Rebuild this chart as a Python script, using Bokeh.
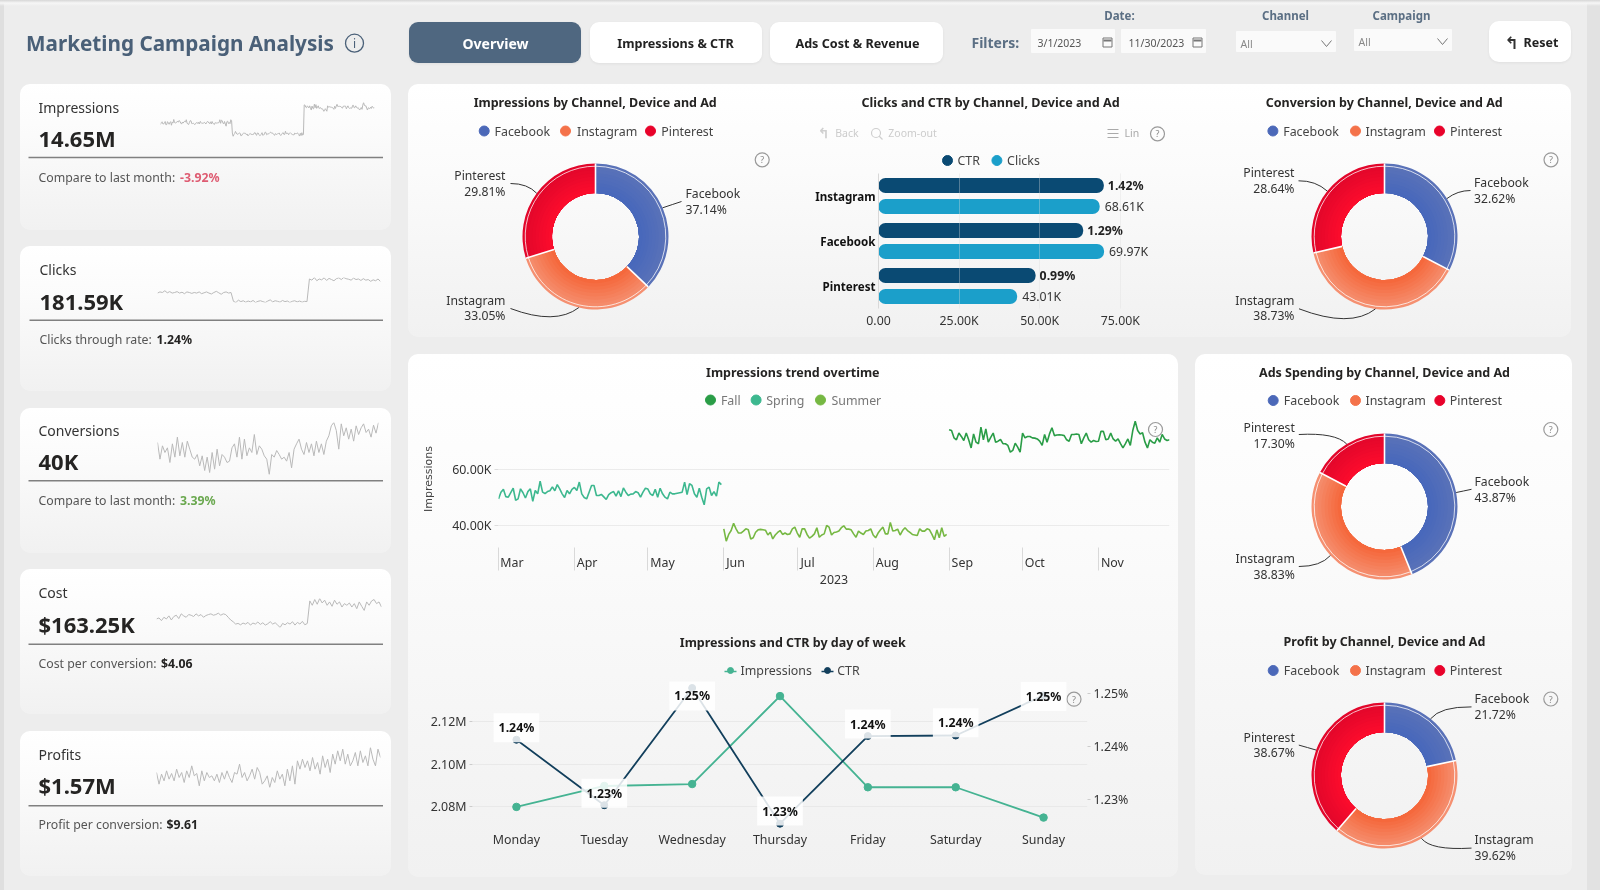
import math
from bokeh.plotting import figure
from bokeh.core.properties import value
from bokeh.models import (Column, Div, Label, Range1d, LinearAxis, FixedTicker, ColumnDataSource,
                          FactorRange, CategoricalAxis)
from bokeh.transform import dodge
from bokeh.embed import file_html
from bokeh.resources import INLINE

# ---------- DATA ----------
channels = ["Facebook", "Instagram", "Pinterest"]
impressions_share = [37.14, 33.05, 29.81]
conversion_share = [32.62, 38.73, 28.64]
spending_share = [43.87, 38.83, 17.30]
profit_share = [21.72, 39.62, 38.67]

bar_channels = ["Pinterest", "Facebook", "Instagram"]
bar_clicks = [43010, 69970, 68610]
bar_ctr = [0.99, 1.29, 1.42]
bar_clicks_labels = ["43.01K", "69.97K", "68.61K"]
bar_ctr_labels = ["0.99%", "1.29%", "1.42%"]

weekdays = ["Monday", "Tuesday", "Wednesday", "Thursday", "Friday", "Saturday", "Sunday"]
dow_impressions = [2.0800e6, 2.0898e6, 2.0907e6, 2.1319e6, 2.0892e6, 2.0892e6, 2.0750e6]
dow_ctr = [1.2413, 1.2289, 1.2511, 1.2254, 1.2420, 1.2421, 1.2497]
dow_ctr_labels = ["1.24%", "1.23%", "1.25%", "1.23%", "1.24%", "1.24%", "1.25%"]

spring = [49.4,51.8,52.8,50.2,50.0,51.6,53.2,48.9,49.4,53.0,51.6,49.7,52.0,53.0,48.5,52.4,51.2,55.7,51.8,51.3,52.0,52.3,53.7,52.3,54.5,53.0,51.2,49.9,52.4,51.2,52.8,53.5,52.4,55.4,51.2,49.9,49.4,51.8,54.2,54.2,50.6,50.6,51.0,50.1,49.2,50.9,51.6,52.0,50.4,52.3,50.2,53.3,51.8,50.6,51.1,51.2,52.0,51.6,50.0,51.8,53.2,52.9,51.2,50.6,52.8,50.0,53.2,51.2,50.0,49.4,51.8,51.2,51.2,51.4,51.6,51.8,55.4,50.9,54.8,54.2,51.2,50.0,53.2,50.0,47.3,53.0,53.6,50.6,52.0,50.4,55.4,54.5]
summer = [38.7,34.3,36.7,38.1,40.7,38.7,37.2,37.2,37.9,38.7,38.35,35.1,35.5,37.5,38.35,38.5,38.35,38.2,36.5,37.5,35.1,36.5,37.4,38.1,36.7,37.2,36.7,36.9,38.7,39.3,37.2,35.7,38.7,38.7,36.7,35.4,36.0,36.9,39.1,35.7,36.5,36.9,39.9,39.3,36.5,37.4,37.6,37.9,39.1,39.8,38.6,38.6,38.35,36.9,35.7,37.9,37.2,36.7,37.9,38.1,38.7,36.5,35.5,37.2,38.35,39.3,36.9,36.9,41.0,37.9,38.1,38.6,36.5,38.1,39.1,38.1,37.4,36.7,36.5,36.3,38.7,37.9,37.9,38.7,38.35,36.7,34.8,38.35,35.5,39.1,36.0,36.7]
fall = [74.1,73.8,71.2,70.5,72.9,71.7,70.25,72.9,70.5,67.6,72.6,69.65,69.1,75.0,70.5,74.4,69.65,71.4,72.9,69.65,70.0,70.6,69.1,69.1,68.5,66.1,66.7,69.3,67.9,66.1,72.9,71.2,71.7,71.7,71.2,71.1,70.8,70.0,68.5,72.4,69.65,72.6,74.8,72.0,72.2,72.3,72.2,72.0,70.5,70.0,72.4,72.4,72.6,72.4,69.1,71.2,72.9,70.5,69.65,70.25,69.9,70.0,73.5,73.5,70.5,70.8,72.9,70.8,70.0,70.8,69.1,67.6,69.1,70.8,68.5,73.8,77.1,73.8,72.6,73.0,69.65,67.6,70.5,69.65,69.3,71.2,69.65,72.4,70.8,70.25,70.5]
month_names = ["Mar", "Apr", "May", "Jun", "Jul", "Aug", "Sep", "Oct", "Nov"]
month_first_day = [0, 31, 61, 92, 122, 153, 184, 214, 245]

clicks_spark = [640,660,650,680,645,665,640,650,665,640,655,630,660,650,635,650,640,660,630,645,660,640,625,650,670,645,620,650,660,640,650,
                500,480,520,495,510,485,505,490,515,480,500,510,495,480,505,525,490,510,500,485,515,495,505,480,500,510,490,505,485,500,495,
                880,860,905,850,880,865,900,855,890,870,850,885,900,870,905,885,875,860,895,870,880,855,885,860,870,840,865,850,880,835]
conversions_spark = [150,125,145,135,142,120,148,128,158,130,150,128,152,140,128,125,132,115,130,108,128,105,135,110,140,115,132,128,120,122,142,148,128,158,125,155,130,142,135,162,132,145,140,130,125,102,132,128,138,132,125,128,122,135,112,140,148,155,140,132,150,135,148,130,152,135,148,132,152,160,175,180,168,140,178,160,172,155,170,152,175,162,172,178,165,170,158,176,164,180]
cost_spark = [550,564,527,573,550,592,536,583,601,555,620,592,573,610,601,583,620,592,610,573,597,610,620,601,610,629,601,620,610,573,536,
              512,480,489,470,494,480,503,466,494,480,508,475,498,466,484,512,480,498,466,433,489,470,498,480,512,466,503,480,517,470,489,
              797,737,816,751,830,769,807,737,783,723,807,751,783,713,760,737,769,713,760,690,783,723,667,783,737,797,816,760,783,713]
profit_spark = [5550,4500,5400,4800,5700,4950,5460,4800,5850,5100,5550,4650,5700,5100,6150,5250,5460,4350,5700,4800,5550,5100,5250,4800,5400,4650,5550,4950,5700,5100,4650,5550,5400,6300,5100,5550,4800,5250,5850,4950,6000,5550,4500,4800,5250,4200,5100,4650,5700,4950,5400,4350,5850,4800,6150,4500,6600,5850,6750,6000,6600,5700,6900,5850,6450,5400,7050,6000,6750,5550,7200,6300,7500,6600,7650,6300,7200,6150,6600,7350,6150,7500,6450,7050,6150,7800,6750,6150,7650,6900]

# ---------- STYLE / LAYOUT ----------
FONT = "Noto Sans"
BG = "#ededed"
CARD = "linear-gradient(180deg,#ffffff 0%,#fbfbfb 35%,#f1f1f1 100%)"
SLATE = "#4a6078"
FILT = "#5b6f84"
INK = "#252423"
COL_FB, COL_IG, COL_PI = "#4b68b8", "#f4724a", "#e8022a"
RING = {"Facebook": ("#4868bb", "#5a72b8"), "Instagram": ("#f5683c", "#f59071"), "Pinterest": ("#fb0c2c", "#e2062b")}
kids = []

def abs_style(x, y):
    return {"position": "absolute", "left": f"{x}px", "top": f"{y}px"}

def box(x0, y0, x1, y1, bg="#fff", radius=10, shadow=None):
    s = {"background": bg, "border-radius": f"{radius}px", **abs_style(x0, y0)}
    if shadow:
        s["box-shadow"] = shadow
    d = Div(text="", width=round(x1 - x0), height=round(y1 - y0), margin=0, styles=s)
    kids.append(d)
    return d

def hexmix(a, b, t):
    ca = [int(a[i:i + 2], 16) for i in (1, 3, 5)]
    cb = [int(b[i:i + 2], 16) for i in (1, 3, 5)]
    return "#%02x%02x%02x" % tuple(round(u + (v - u) * t) for u, v in zip(ca, cb))

def frame_fig(fx0, fy0, fx1, fy1, pl, pr, pt, pb, x_range, y_range):
    fw, fh = round(fx1 - fx0), round(fy1 - fy0)
    W, H = fw + pl + pr, fh + pt + pb
    f = figure(width=W, height=H, frame_width=fw, frame_height=fh,
               min_border_left=pl, min_border_right=pr, min_border_top=pt, min_border_bottom=pb,
               x_range=x_range, y_range=y_range, output_backend="svg", toolbar_location=None,
               x_axis_location=None, y_axis_location=None, margin=0)
    f.background_fill_alpha = 0
    f.border_fill_alpha = 0
    f.outline_line_color = None
    f.grid.visible = False
    # own wrapper: the layout aligns the frames of figures that share a column
    kids.append(Column(children=[f], width=W, height=H, margin=0, styles=abs_style(fx0 - pl, fy0 - pt)))
    return f

# page background reaching the margins
kids.append(Div(text="", width=1600, height=890, margin=0, styles={
    "position": "fixed", "left": "0", "top": "0", "width": "100vw", "height": "100vh",
    "background": f"linear-gradient(180deg,#d6d6d6 0,#f6f6f6 3px,rgba(237,237,237,0) 6px),"
                  f"linear-gradient(90deg,#dfdfdf 4px,{BG} 4px,{BG} 1587px,#e2e2e2 1587px)"}))

# cards
for y0, y1 in [(84, 230), (246, 391), (408, 553), (569, 714), (731, 876)]:
    box(20, y0, 391, y1, CARD)
box(408, 84, 1571, 337, CARD)
box(408, 354, 1178, 877, CARD)
box(1195, 354, 1572, 875, CARD)

# header buttons and inputs
SH = "0 1px 3px rgba(0,0,0,.06)"
box(409, 22, 581, 63, "#4f6780", 9, SH)
box(590, 22, 762, 63, "#fff", 9, SH)
box(770, 22, 943, 63, "#fff", 9, SH)
box(1031, 29, 1115, 53, "#fafafa", 1)
box(1121, 29, 1206, 53, "#fafafa", 1)
box(1236, 31, 1336, 52, "#fafafa", 1)
box(1354, 29, 1452, 51, "#fafafa", 1)
box(1489, 21, 1571, 62, "#fff", 10, SH)

# overlay with all the texts of the page, in page pixels
ov = frame_fig(8, 8, 1592, 882, 0, 0, 0, 0, Range1d(8, 1592), Range1d(882, 8))
LIFT = 1  # Noto Sans sits a pixel low on a "middle" baseline

def T(x, y, s, size=13, color=INK, bold=False, align="left", font=FONT, angle=0):
    ov.add_layout(Label(x=x, y=y - LIFT, text=s, text_font=font, text_font_size=f"{size}px",
                        text_font_style="bold" if bold else "normal", text_color=color,
                        text_align=align, text_baseline="middle", angle=angle))

def qmark(x, y):
    ov.scatter([x], [y], size=14, marker="circle", fill_alpha=0, line_color="#9a9a9a", line_width=1.2)
    T(x, y + LIFT, "?", 9, "#888", align="center")

def chevron(x, y):
    ov.line([x - 5, x, x + 5], [y - 3, y + 3, y - 3], line_color="#777", line_width=1)

def calendar(x, y):
    ov.scatter([x], [y], size=9, marker="square", fill_alpha=0, line_color="#777", line_width=1)
    ov.segment([x - 4], [y - 2], [x + 4], [y - 2], line_color="#777", line_width=2)

T(25.5, 43, "Marketing Campaign Analysis", 20.7, SLATE, True)
ov.scatter([354], [42.7], size=18, marker="circle", fill_alpha=0, line_color=SLATE, line_width=1.3)
T(354, 43.7, "i", 12, SLATE, align="center")
T(495, 44, "Overview", 14, "#ffffff", True, "center")
T(675, 44, "Impressions & CTR", 12.6, "#222", True, "center")
T(857, 44, "Ads Cost & Revenue", 12.6, "#222", True, "center")
T(971, 42.7, "Filters:", 14, FILT, True)
T(1119, 15.7, "Date:", 11.5, FILT, True, "center")
T(1285, 15.7, "Channel", 11.5, FILT, True, "center")
T(1401, 15.7, "Campaign", 11.5, FILT, True, "center")
T(1037, 43, "3/1/2023", 10.5, "#555")
T(1128, 43, "11/30/2023", 10.5, "#555")
calendar(1107, 42)
calendar(1197, 42)
T(1240, 44, "All", 10.5, "#888")
T(1358, 42, "All", 10.5, "#888")
chevron(1326, 43)
chevron(1442, 41)
T(1511, 43, "↰", 17, "#333", True, "center", font="DejaVu Sans")
T(1523, 43, "Reset", 12.5, "#222", True)

# KPI texts
kpis = [
    (108, "Impressions", 139.5, "14.65M", 157, 178, "Compare to last month: ", "-3.92%", "#de5c72", 179.6, 38),
    (270, "Clicks", 302.5, "181.59K", 319.7, 340, "Clicks through rate: ", "1.24%", "#252423", 156, 39),
    (431, "Conversions", 462.7, "40K", 480.3, 500.7, "Compare to last month: ", "3.39%", "#6aa84f", 179.5, 38),
    (593.3, "Cost", 625, "$163.25K", 643.7, 664, "Cost per conversion: ", "$4.06", "#252423", 160.5, 38),
    (754.7, "Profits", 786, "$1.57M", 805.3, 825.3, "Profit per conversion: ", "$9.61", "#252423", 166, 38),
]
for yl, name, yv, val, yr, ys, sub, subv, subc, subx, lx in kpis:
    T(lx, yl, name, 14, "#333")
    T(lx, yv - 1, val, 22, INK, True)
    ov.segment([lx - 10], [yr], [382.5], [yr], line_color="#808080", line_width=1.4)
    T(lx, ys, sub, 12.3, "#555")
    T(subx, ys, subv, 12.3, subc, True)

# shared legend for donuts
def donut_legend(y, xs):
    for name, col, (dx, tx) in zip(channels, (COL_FB, COL_IG, COL_PI), xs):
        ov.scatter([dx], [y], size=10, marker="circle", color=col)
        T(tx, y + 1, name, 12.4, "#444")

T(594.7, 103, "Impressions by Channel, Device and Ad", 12.5, INK, True, "center")
donut_legend(130.5, [(483.7, 494), (565, 576.5), (650, 660.7)])
qmark(761.7, 159.3)
T(1383.7, 103, "Conversion by Channel, Device and Ad", 12.5, INK, True, "center")
donut_legend(130.5, [(1272.4, 1282.7), (1355, 1365), (1439, 1449.5)])
qmark(1550.5, 159.3)
T(1384, 373, "Ads Spending by Channel, Device and Ad", 12.5, INK, True, "center")
donut_legend(400, [(1272.7, 1283.3), (1355, 1365), (1439.3, 1449.3)])
qmark(1550.3, 429)
T(1384, 642.3, "Profit by Channel, Device and Ad", 12.5, INK, True, "center")
donut_legend(670, [(1272.7, 1283.3), (1355, 1365), (1439.3, 1449.3)])
qmark(1550.3, 698.5)

# bar chart header
T(990, 103, "Clicks and CTR by Channel, Device and Ad", 12.6, INK, True, "center")
T(823, 133, "↰", 14, "#cfcfcf", True, "center", font="DejaVu Sans")
T(834.7, 133.5, "Back", 10.5, "#cccccc")
ov.scatter([875.5], [132.5], size=9, marker="circle", fill_alpha=0, line_color="#cfcfcf", line_width=1.2)
ov.segment([878.5], [135.5], [882], [139], line_color="#cfcfcf", line_width=1.2)
T(887.8, 133.5, "Zoom-out", 10.5, "#cccccc")
for dy in (-4, 0, 4):
    ov.segment([1107], [133 + dy], [1118], [133 + dy], line_color="#aaaaaa", line_width=1)
T(1124, 133.5, "Lin", 10.5, "#aaaaaa")
qmark(1157, 133.3)
ov.scatter([947], [160], size=10, marker="circle", color="#0a4a73")
T(957, 161, "CTR", 12.4, "#444")
ov.scatter([996.4], [160], size=10, marker="circle", color="#1b9fca")
T(1006.6, 161, "Clicks", 12.4, "#444")

# trend / dow headers
T(792.3, 373.3, "Impressions trend overtime", 12.5, INK, True, "center")
for x, tx, n, c in [(710, 720.4, "Fall", "#2a9d47"), (755.6, 765.8, "Spring", "#3db88f"), (820, 831, "Summer", "#76b843")]:
    ov.scatter([x], [399.5], size=10, marker="circle", color=c)
    T(tx, 401, n, 12.4, "#777")
qmark(1155, 429)
T(792.3, 642.7, "Impressions and CTR by day of week", 12.5, INK, True, "center")
for x, tx, n, c in [(730, 740, "Impressions", "#45b392"), (827, 836.7, "CTR", "#123f5c")]:
    ov.segment([x - 6], [671], [x + 6], [671], line_color=c, line_width=1.5)
    ov.scatter([x], [670], size=6, marker="circle", color=c)
    T(tx, 671, n, 12.4, "#444")
qmark(1073.5, 698.7)

# ---------- sparklines ----------
def spark(values, x0, x1, y0, y1):
    f = frame_fig(x0, y0, x1, y1, 1, 1, 1, 1, Range1d(0, len(values) - 1), Range1d(min(values), max(values)))
    f.line(list(range(len(values))), values, line_color="#b9b9b9", line_width=1)

spark(spring + summer + fall, 160, 374.3, 102.4, 136.5)
spark(clicks_spark, 157.3, 380, 276.7, 301.7)
spark(conversions_spark, 157.3, 378.3, 421.7, 473.7)
spark(cost_spark, 156, 380.7, 598, 626.7)
spark(profit_spark, 156, 380, 746.7, 786.7)

# ---------- donuts ----------
R_OUT, R_IN = 73, 43.5
def donut(values, cx, cy, layout):
    HW, HH = 182, 97
    f = frame_fig(cx - HW, cy - HH, cx + HW, cy + HH, 0, 0, 0, 0, Range1d(-HW, HW), Range1d(-HH, HH))
    total = sum(values)
    cum = 0
    bands = 9
    for name, v, lay in zip(channels, values, layout):
        a0 = cum / total
        a1 = (cum + v) / total
        cum += v
        start, end = math.pi / 2 - 2 * math.pi * a1, math.pi / 2 - 2 * math.pi * a0
        c_in, c_out = RING[name]
        # radial shading: painted from the rim inwards, each layer over the previous
        for b in reversed(range(bands)):
            r1 = R_IN + (R_OUT - R_IN) * (b + 1) / bands
            f.annular_wedge(0, 0, R_IN, r1, start, end, fill_color=hexmix(c_in, c_out, b / (bands - 1)),
                            line_color=None)
        # white inner rim
        f.arc(0, 0, radius=70.3, start_angle=start, end_angle=end, line_color="#ffffff", line_width=1, line_alpha=0.75)
        # leader line + label
        mid = (a0 + a1) / 2 * 2 * math.pi
        sx, sy = R_OUT * math.sin(mid), R_OUT * math.cos(mid)
        ax, ay, qx, qy, tx, ty0, ty1 = lay
        f.quadratic(sx, sy, ax - cx, cy - ay, qx - cx, cy - qy, line_color="#333333", line_width=1)
        al = "left" if tx > cx else "right"
        for ty, s in ((ty0, name), (ty1, f"{v:.2f}%")):
            f.text([tx - cx], [cy - ty + LIFT * 0.5], [s], text_font=value(FONT), text_font_size="12.2px", text_color="#333",
                   text_align=al, text_baseline="middle")
    # white slice separators
    cum = 0
    for v in values:
        a = math.pi / 2 - 2 * math.pi * cum / total
        cum += v
        f.segment(R_IN * math.cos(a), R_IN * math.sin(a), R_OUT * math.cos(a), R_OUT * math.sin(a),
                  line_color="#ffffff", line_width=1.6)

# per slice: leader end x,y / control x,y / text x, line-1 y, line-2 y, all in page pixels
donut(impressions_share, 595, 236, [(681, 201, 672, 204, 685, 193.3, 209),
                                    (510, 308, 555, 325, 505, 300, 315.3),
                                    (510, 183, 527, 183, 505, 175.3, 191.3)])
donut(conversion_share, 1384, 236, [(1470, 190, 1457, 190, 1473.5, 182, 198),
                                    (1298.5, 308.3, 1350, 328, 1294, 300.3, 315.3),
                                    (1298, 180.3, 1315, 180, 1294, 172.7, 188.7)])
donut(spending_share, 1384, 506, [(1471, 488.8, 1463, 490.5, 1474, 481, 497),
                                  (1298.3, 566, 1320, 566, 1294.3, 558.7, 574.5),
                                  (1298.3, 434, 1335, 432, 1294.3, 427, 443)])
donut(profit_share, 1384, 775, [(1471, 706.4, 1440, 706, 1474, 698.5, 714.3),
                                (1471, 847.6, 1430, 850, 1474, 839.3, 855),
                                (1298.3, 744.6, 1307, 747, 1294.3, 737, 752.5)])

# ---------- bar chart ----------
PX_PER_25K = 80.6
PX_PER_PCT = 158.7
bx0, bx1, by0, by1 = 877.6, 1147.6, 172.75, 308
bx_max = (bx1 - bx0) / PX_PER_25K * 25000
bf = frame_fig(bx0, by0, bx1, by1, 90, 10, 4, 34, Range1d(0, bx_max), FactorRange(factors=bar_channels))
bf.extra_x_ranges["ctr"] = Range1d(0, (bx1 - bx0) / PX_PER_PCT)
bsrc = ColumnDataSource(dict(ch=bar_channels, clicks=bar_clicks, ctr=bar_ctr,
                             lc=bar_clicks_labels, lr=bar_ctr_labels))
bf.hbar(y=dodge("ch", 0.233, range=bf.y_range), left=0, right="ctr", height=0.333, x_range_name="ctr",
        source=bsrc, fill_color="#0a4a73", line_color=None, border_radius=7)
bf.hbar(y=dodge("ch", -0.233, range=bf.y_range), left=0, right="clicks", height=0.333,
        source=bsrc, fill_color="#1b9fca", line_color=None, border_radius=7)
bf.text(x="ctr", y=dodge("ch", 0.233, range=bf.y_range), text="lr", x_range_name="ctr", source=bsrc, x_offset=4,
        text_font=value(FONT), text_font_size="12.3px", text_font_style="bold", text_color="#222", text_baseline="middle")
bf.text(x="clicks", y=dodge("ch", -0.233, range=bf.y_range), text="lc", source=bsrc, x_offset=5,
        text_font=value(FONT), text_font_size="12.3px", text_color="#333", text_baseline="middle")
bax = LinearAxis(ticker=FixedTicker(ticks=[0, 25000, 50000, 75000]),
                 major_label_overrides={0: "0.00", 25000: "25.00K", 50000: "50.00K", 75000: "75.00K"})
bax.axis_line_color = None
bax.major_tick_line_color = None
bax.major_tick_out = 0
bax.major_tick_in = 0
bax.major_label_standoff = 3
bax.major_label_text_font = FONT
bax.major_label_text_font_size = "12.3px"
bax.major_label_text_color = "#333"
bf.add_layout(bax, "below")
cax = CategoricalAxis()
cax.axis_line_color = "#d8d8d8"
cax.major_tick_line_color = None
cax.major_tick_out = 0
cax.major_tick_in = 0
cax.major_label_standoff = 3
cax.major_label_text_font = FONT
cax.major_label_text_font_size = "11.6px"
cax.major_label_text_color = "#111"
cax.major_label_text_font_style = "bold"
bf.add_layout(cax, "left")
bf.xgrid.visible = True
bf.xgrid.ticker = FixedTicker(ticks=[25000, 50000, 75000])
bf.xgrid.grid_line_color = "#dcdcdc"
bf.xgrid.grid_line_alpha = 0.35
bf.xgrid.level = "overlay"

# ---------- trend ----------
PX_PER_K = 2.8
ty0, ty1 = 410, 547
t_top = 60 + (468.7 - ty0) / PX_PER_K
t_bot = 60 - (ty1 - 468.7) / PX_PER_K
label_shift = [5.5, 5.2, 6, 4.8, 4.2, 5.8, 5.4, 5, 5.7]
tf = frame_fig(496.5, ty0, 1168, ty1, 78, 8, 4, 76, Range1d(0, 274), Range1d(t_bot, t_top))
d_spring = list(range(0, len(spring)))
d_summer = list(range(len(spring), len(spring) + len(summer)))
d_fall = list(range(len(spring) + len(summer), len(spring) + len(summer) + len(fall)))
tf.line(d_spring, spring, line_color="#3db88f", line_width=1.6)
tf.line(d_summer, summer, line_color="#76b843", line_width=1.6)
tf.line(d_fall, fall, line_color="#2a9d47", line_width=1.6)
label_pos = [d + s for d, s in zip(month_first_day, label_shift)]
xax = LinearAxis(ticker=FixedTicker(ticks=label_pos, minor_ticks=month_first_day),
                 major_label_overrides=dict(zip(label_pos, month_names)), axis_label="2023")
xax.axis_line_color = None
xax.major_tick_line_color = None
xax.major_tick_out = 0
xax.major_tick_in = 0
xax.minor_tick_line_color = "#d9d9d9"
xax.minor_tick_out = 23
xax.minor_tick_in = 0
xax.major_label_standoff = -17  # labels sit beside the long month ticks, not below them
xax.major_label_text_font = FONT
xax.major_label_text_font_size = "12.4px"
xax.major_label_text_color = "#333"
xax.axis_label_text_font = FONT
xax.axis_label_text_font_size = "12.4px"
xax.axis_label_text_font_style = "normal"
xax.axis_label_text_color = "#333"
xax.axis_label_standoff = 1
tf.add_layout(xax, "below")
yax = LinearAxis(ticker=FixedTicker(ticks=[40, 60]), major_label_overrides={40: "40.00K", 60: "60.00K"},
                 axis_label="Impressions")
yax.axis_line_color = None
yax.major_tick_line_color = "#dddddd"
yax.major_tick_out = 4
yax.major_tick_in = 0
yax.minor_tick_line_color = None
yax.major_label_standoff = 3
yax.major_label_text_font = FONT
yax.major_label_text_font_size = "12.4px"
yax.major_label_text_color = "#333"
yax.axis_label_text_font = "DejaVu Sans"
yax.axis_label_text_font_size = "11px"
yax.axis_label_text_font_style = "normal"
yax.axis_label_text_color = "#444"
yax.axis_label_standoff = 14
tf.add_layout(yax, "left")
tf.ygrid.visible = True
tf.ygrid.ticker = FixedTicker(ticks=[40, 60])
tf.ygrid.grid_line_color = "#ebebeb"

# ---------- day of week ----------
dy0, dy1 = 680, 830
PX_PER_02M = 42.7
PX_PER_001 = 52.8
l_top = 2.12e6 + (721 - dy0) / PX_PER_02M * 0.02e6
l_bot = 2.12e6 - (dy1 - 721) / PX_PER_02M * 0.02e6
r_top = 1.25 + (693.3 - dy0) / PX_PER_001 * 0.01
r_bot = 1.25 - (dy1 - 693.3) / PX_PER_001 * 0.01
df = frame_fig(472, dy0, 1086.8, dy1, 50, 50, 4, 30, Range1d(-0.5, 6.5), Range1d(l_bot, l_top))
df.extra_y_ranges["ctr"] = Range1d(r_bot, r_top)
idx = list(range(len(weekdays)))
df.line(idx, dow_impressions, line_color="#45b392", line_width=1.8)
df.scatter(idx, dow_impressions, size=7.5, marker="circle", color="#45b392")
df.line(idx, dow_ctr, y_range_name="ctr", line_color="#123f5c", line_width=1.8)
df.scatter(idx, dow_ctr, y_range_name="ctr", size=7, marker="circle", color="#123f5c")
label_lift = [12, 12, -8, 12.6, 12, 12.7, -1]
for i, c, s, up in zip(idx, dow_ctr, dow_ctr_labels, label_lift):
    df.add_layout(Label(x=i, y=c, y_range_name="ctr", text=s, y_offset=up, text_font=FONT,
                        text_font_size="12.3px", text_font_style="bold", text_color="#111",
                        text_align="center", text_baseline="middle",
                        background_fill_color="#ffffff", background_fill_alpha=0.85, padding=(5, 6)))
dx = LinearAxis(ticker=FixedTicker(ticks=idx), major_label_overrides=dict(zip(idx, weekdays)))
dx.axis_line_color = None
dx.major_tick_line_color = None
dx.major_tick_out = 0
dx.major_tick_in = 0
dx.major_label_standoff = 0
dx.major_label_text_font = FONT
dx.major_label_text_font_size = "12.4px"
dx.major_label_text_color = "#333"
df.add_layout(dx, "below")
dl = LinearAxis(ticker=FixedTicker(ticks=[2.08e6, 2.10e6, 2.12e6]),
                major_label_overrides={2.08e6: "2.08M", 2.10e6: "2.10M", 2.12e6: "2.12M"})
dr = LinearAxis(y_range_name="ctr", ticker=FixedTicker(ticks=[1.23, 1.24, 1.25]),
                major_label_overrides={1.23: "1.23%", 1.24: "1.24%", 1.25: "1.25%"})
for a in (dl, dr):
    a.axis_line_color = None
    a.major_tick_line_color = "#cccccc"
    a.major_tick_out = 3
    a.major_tick_in = 0
    a.minor_tick_line_color = None
    a.major_label_standoff = 3
    a.major_label_text_font = FONT
    a.major_label_text_font_size = "12.4px"
    a.major_label_text_color = "#333"
df.add_layout(dl, "left")
df.add_layout(dr, "right")
df.ygrid.visible = True
df.ygrid.ticker = FixedTicker(ticks=[2.08e6, 2.10e6, 2.12e6])
df.ygrid.grid_line_color = "#e9e9e9"

p = Column(children=kids, width=1584, height=874)
open("out.html", "w").write(file_html(p, INLINE))
